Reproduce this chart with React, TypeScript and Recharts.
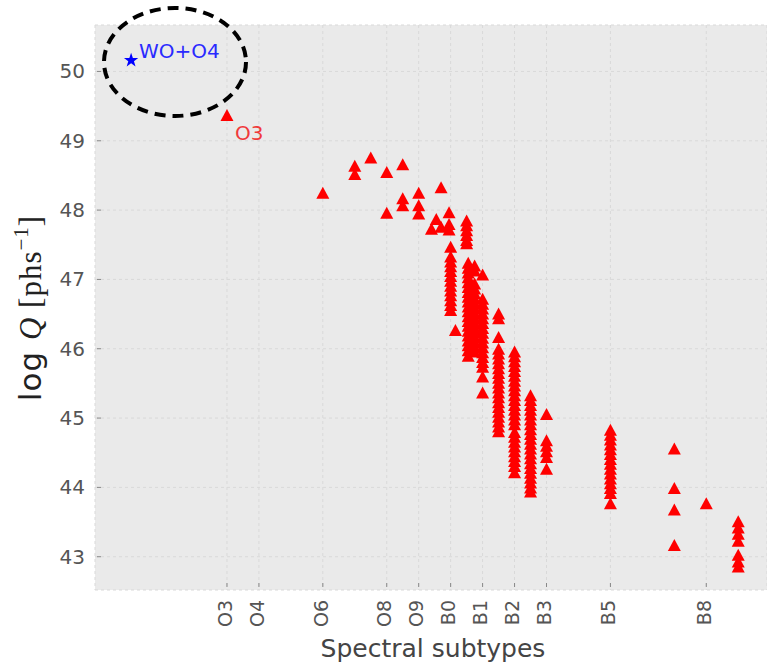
import React from "react";
import { ScatterChart, Scatter, XAxis, YAxis, CartesianGrid } from "recharts";

const tickPos = [3, 4, 6, 8, 9, 10, 11, 12, 13, 15, 18];
const tickNames = ["O3", "O4", "O6", "O8", "O9", "B0", "B1", "B2", "B3", "B5", "B8"];
const yTicks = [43, 44, 45, 46, 47, 48, 49, 50];

// the WO+O4 star and the labelled O3 star
const woStar = [{ x: 0, y: 50.16 }];
const o3Point = [{ x: 3, y: 49.37 }];

// subtype position -> log Q values
const redColumns: [number, number[]][] = [
  [6, [48.25]],
  [7, [48.64, 48.52]],
  [7.5, [48.76]],
  [8, [48.55, 47.96]],
  [8.5, [48.66, 48.17, 48.07]],
  [9, [48.25, 48.07, 47.95]],
  [9.4, [47.73]],
  [9.55, [47.87]],
  [9.7, [48.33, 47.76]],
  [9.95, [47.97, 47.8, 47.72]],
  [10, [47.47, 47.33, 47.26, 47.19, 47.12, 47.05, 46.98, 46.91, 46.84, 46.77, 46.7, 46.63, 46.56]],
  [10.15, [46.27]],
  [10.5, [47.85, 47.78, 47.71, 47.64, 47.57, 47.52]],
  [10.55, [47.24, 47.17, 47.1, 47.03, 46.96, 46.89, 46.82, 46.75, 46.68, 46.61, 46.54, 46.47, 46.4, 46.33, 46.26, 46.19, 46.12, 46.05, 45.98, 45.9]],
  [10.75, [47.2, 47.13, 46.94, 46.87, 46.8, 46.73, 46.66, 46.59, 46.52, 46.45, 46.38, 46.31, 46.24, 46.17, 46.1, 46.03, 45.96]],
  [11, [47.07, 46.72, 46.65, 46.58, 46.51, 46.44, 46.37, 46.3, 46.23, 46.16, 46.09, 46.02, 45.95, 45.88, 45.81, 45.74, 45.6, 45.37]],
  [11.5, [46.51, 46.44, 46.17, 46.0, 45.93, 45.86, 45.79, 45.72, 45.65, 45.58, 45.51, 45.44, 45.37, 45.3, 45.23, 45.16, 45.09, 45.02, 44.95, 44.88, 44.81]],
  [12, [45.96, 45.89, 45.82, 45.75, 45.68, 45.61, 45.54, 45.47, 45.4, 45.33, 45.26, 45.19, 45.12, 45.05, 44.98, 44.91, 44.8, 44.73, 44.66, 44.59, 44.52, 44.45, 44.38, 44.31, 44.22]],
  [12.5, [45.33, 45.26, 45.19, 45.12, 45.05, 44.98, 44.91, 44.84, 44.77, 44.7, 44.63, 44.56, 44.49, 44.42, 44.35, 44.28, 44.21, 44.14, 44.07, 44.0, 43.94]],
  [13, [45.06, 44.68, 44.6, 44.52, 44.44, 44.27]],
  [15, [44.83, 44.76, 44.69, 44.62, 44.55, 44.48, 44.41, 44.34, 44.27, 44.2, 44.13, 44.06, 43.99, 43.92, 43.77]],
  [17, [44.56, 43.99, 43.68, 43.17]],
  [18, [43.77]],
  [19, [43.51, 43.42, 43.33, 43.23, 43.03, 42.93, 42.86]],
];

const redPoints = redColumns.flatMap(([x, ys]) => ys.map((y) => ({ x, y })));

const font = "DejaVu Sans, sans-serif";

const Triangle = (props: any) => {
  const { cx, cy } = props;
  return (
    <polygon
      points={`${cx},${cy - 6} ${cx - 6.5},${cy + 6} ${cx + 6.5},${cy + 6}`}
      fill="#ff0000"
    />
  );
};

const O3Shape = (props: any) => {
  const { cx, cy } = props;
  return (
    <g>
      <Triangle cx={cx} cy={cy} />
      <text x={cx + 8} y={cy + 25} fontSize={20} fill="#f03a3a" fontFamily={font}>
        O3
      </text>
    </g>
  );
};

const StarShape = (props: any) => {
  const { cx, cy } = props;
  const pts: string[] = [];
  for (let i = 0; i < 10; i++) {
    const r = i % 2 === 0 ? 7.5 : 3;
    const a = -Math.PI / 2 + (i * Math.PI) / 5;
    pts.push(`${cx + r * Math.cos(a)},${cy + r * Math.sin(a)}`);
  }
  return (
    <g>
      <polygon points={pts.join(" ")} fill="#0000ff" />
      <text x={cx + 8} y={cy - 2} fontSize={20} fill="#2a2aff" fontFamily={font}>
        WO+O4
      </text>
    </g>
  );
};

const XTick = (props: any) => {
  const { x, y, payload } = props;
  const label = tickNames[tickPos.indexOf(payload.value)];
  return (
    <g>
      <line x1={x} x2={x} y1={y - 7} y2={y - 3} stroke="#888" />
      <text
        transform={`translate(${x},${y + 10}) rotate(-90)`}
        textAnchor="end"
        dy="0.25em"
        fontSize={19}
        fill="#555"
        fontFamily={font}
      >
        {label}
      </text>
    </g>
  );
};

const YTick = (props: any) => {
  const { x, y, payload } = props;
  return (
    <g>
      <line x1={x + 2} x2={x + 6} y1={y} y2={y} stroke="#888" />
      <text x={x - 10} y={y} dy="0.35em" textAnchor="end" fontSize={20} fill="#555" fontFamily={font}>
        {payload.value}
      </text>
    </g>
  );
};

export default function App() {
  return (
    <div style={{ position: "absolute", left: 0, top: 0, width: 767, height: 664, background: "#fff" }}>
      <ScatterChart width={767} height={664} margin={{ top: 25, right: 0, bottom: 0, left: 0 }}>
        <CartesianGrid fill="#eaeaea" stroke="#d9d9d9" strokeDasharray="3 3" />
        <XAxis
          type="number"
          dataKey="x"
          domain={[-1.13, 19.9]}
          ticks={tickPos}
          interval={0}
          height={74}
          axisLine={false}
          tickLine={false}
          tickSize={0}
          tickMargin={0}
          tick={<XTick />}
          allowDataOverflow
        />
        <YAxis
          type="number"
          dataKey="y"
          domain={[42.52, 50.67]}
          ticks={yTicks}
          interval={0}
          width={95}
          axisLine={false}
          tickLine={false}
          tickSize={0}
          tickMargin={0}
          tick={<YTick />}
          allowDataOverflow
        />
        <Scatter data={redPoints} shape={<Triangle />} isAnimationActive={false} />
        <Scatter data={o3Point} shape={<O3Shape />} isAnimationActive={false} />
        <Scatter data={woStar} shape={<StarShape />} isAnimationActive={false} />
      </ScatterChart>
      <svg
        width={767}
        height={664}
        style={{ position: "absolute", left: 0, top: 0, pointerEvents: "none" }}
      >
        <ellipse cx={175} cy={62} rx={71} ry={54} fill="none" stroke="#000" strokeWidth={4} strokeDasharray="11 7" />
        <text
          transform="translate(41,308) rotate(-90)"
          textAnchor="middle"
          fontSize={31}
          letterSpacing={1}
          fill="#222"
          fontFamily="Liberation Serif, serif"
        >
          <tspan fontFamily={font}>log </tspan>
          <tspan fontStyle="italic">Q</tspan>
          <tspan> [phs</tspan>
          <tspan fontSize={21} dy={-13}>−1</tspan>
          <tspan dy={13}>]</tspan>
        </text>
        <text x={433} y={657} textAnchor="middle" fontSize={25} fill="#444" fontFamily={font}>
          Spectral subtypes
        </text>
      </svg>
    </div>
  );
}
